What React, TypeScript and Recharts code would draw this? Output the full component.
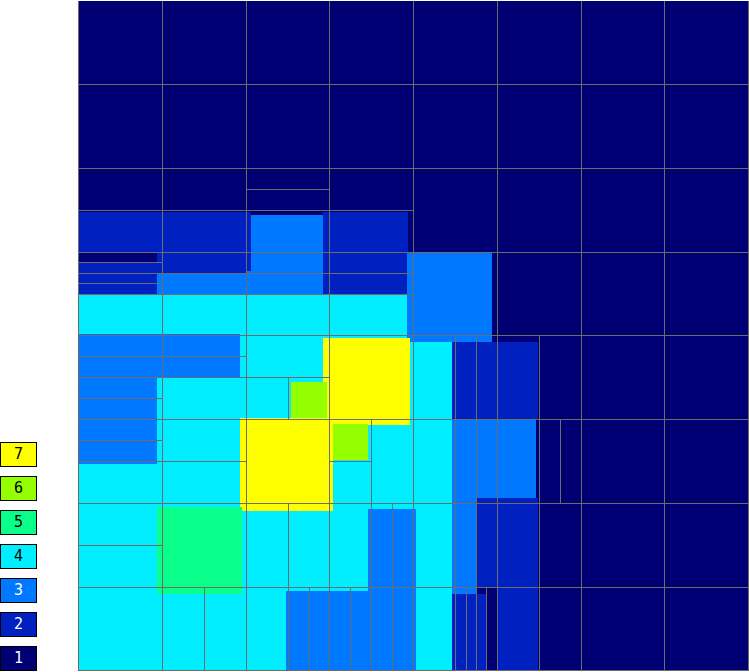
import { useEffect } from "react";
import { ScatterChart, Scatter, XAxis, YAxis, ReferenceArea, ReferenceLine } from "recharts";

// levels shown in the key, top to bottom
const legendLevels = [7, 6, 5, 4, 3, 2, 1];
const levelColors: Record<number, string> = {
  1: "#000074",
  2: "#0020C0",
  3: "#0078FF",
  4: "#00EEFF",
  5: "#0AFF8A",
  6: "#94FF00",
  7: "#FFFF00",
};

// filled patches in grid units: [x1, x2, y1, y2, level]  (y counted from the top)
const patches: [number, number, number, number, number][] = [
  [0, 8, 0, 8, 1],
  [0, 2, 2.52, 3.51, 2],
  [0, 0.93, 3.01, 3.13, 1],
  [0.93, 1, 3.26, 3.51, 3],
  [1, 2, 3.26, 3.51, 3],
  [2, 2.06, 2.52, 3.22, 2],
  [2, 2.06, 3.22, 3.51, 3],
  [2.06, 2.92, 2.555, 3.51, 3],
  [2.92, 3.93, 2.52, 3.51, 2],
  [0, 4.46, 3.51, 8, 4],
  [3.92, 4.93, 3.01, 4.07, 3],
  [0, 1.93, 3.98, 4.5, 3],
  [0, 0.93, 4.5, 5.53, 3],
  [2.92, 3.96, 4.02, 5.06, 7],
  [1.93, 3.04, 4.98, 6.09, 7],
  [2.54, 2.97, 4.55, 4.98, 6],
  [3.04, 3.46, 5.05, 5.48, 6],
  [0.93, 1.955, 6.04, 7.08, 5],
  [3.46, 4.03, 6.07, 8, 3],
  [2.47, 3.46, 7.045, 8, 3],
  [4.46, 5.48, 4.07, 5.0, 2],
  [4.46, 5.46, 5.0, 6.0, 3],
  [4.745, 5.48, 5.93, 7.01, 2],
  [4.46, 4.745, 6.0, 7.08, 3],
  [4.46, 4.865, 7.08, 8, 2],
  [4.865, 5.0, 7.1, 8, 1],
  [5.0, 5.48, 7.01, 8, 2],
];

const gridSteps = [0, 1, 2, 3, 4, 5, 6, 7, 8];

// refined mesh lines: horizontal [y, x1, x2], vertical [x, y1, y2]
const subRows: [number, number, number][] = [
  [2.25, 2, 3],
  [2.5, 0, 4],
  [3.125, 0, 1],
  [3.25, 0, 4],
  [3.375, 0, 1],
  [3.5, 0, 4],
  [4.25, 0, 2],
  [4.5, 0, 3],
  [4.75, 0, 1],
  [5.25, 0, 1],
  [5.5, 0, 2],
  [5.5, 3, 3.5],
  [6.5, 0, 1],
];
const subCols: [number, number, number][] = [
  [2.5, 4.5, 5],
  [2.5, 6, 8],
  [3.5, 5, 8],
  [3.75, 6, 8],
  [1.5, 7, 8],
  [2.75, 7, 8],
  [3.25, 7, 8],
  [4.5, 4, 8],
  [4.75, 4, 8],
  [4.625, 7, 8],
  [4.875, 7, 8],
  [5.5, 4, 8],
  [5.75, 5, 6],
];

const GRID = "#6C6C6C";

// patch centres, only to give the axes some data
const centres = patches.map(([x1, x2, y1, y2, lv]) => ({ x: (x1 + x2) / 2, y: (y1 + y2) / 2, level: lv }));

export default function App() {
  useEffect(() => {
    document.body.style.margin = "0";
  }, []);

  return (
    <div style={{ position: "absolute", left: 0, top: 0, width: 749, height: 672, overflow: "hidden", background: "#fff" }}>
      <style>{`.recharts-surface { shape-rendering: crispEdges; }`}</style>
      <ScatterChart width={749} height={672} margin={{ top: 0.9, right: 0.3, bottom: 1.1, left: 78.7 }}>
        <XAxis type="number" dataKey="x" domain={[0, 8]} allowDataOverflow hide />
        <YAxis type="number" dataKey="y" domain={[0, 8]} allowDataOverflow reversed hide />
        {patches.map(([x1, x2, y1, y2, lv], i) => (
          <ReferenceArea
            key={`p${i}`}
            x1={x1}
            x2={x2}
            y1={y1}
            y2={y2}
            fill={levelColors[lv]}
            fillOpacity={1}
            stroke="none"
            ifOverflow="visible"
          />
        ))}
        {gridSteps.slice(0).map((v) => (
          <ReferenceLine key={`v${v}`} segment={[{ x: v, y: 0 }, { x: v, y: 8 }]} stroke={GRID} ifOverflow="visible" />
        ))}
        {gridSteps.slice(1).map((v) => (
          <ReferenceLine key={`h${v}`} segment={[{ x: 0, y: v }, { x: 8, y: v }]} stroke={GRID} ifOverflow="visible" />
        ))}
        {subRows.map(([y, x1, x2], i) => (
          <ReferenceLine key={`sr${i}`} segment={[{ x: x1, y }, { x: x2, y }]} stroke={GRID} ifOverflow="visible" />
        ))}
        {subCols.map(([x, y1, y2], i) => (
          <ReferenceLine key={`sc${i}`} segment={[{ x, y: y1 }, { x, y: y2 }]} stroke={GRID} ifOverflow="visible" />
        ))}
        <Scatter data={centres} isAnimationActive={false} fill="none" shape={() => <g />} />
      </ScatterChart>
      {legendLevels.map((lv, i) => (
        <div
          key={lv}
          style={{
            position: "absolute",
            left: 0,
            top: 442 + i * 34,
            width: 35,
            height: 23,
            border: "1px solid #000",
            background: levelColors[lv],
            color: lv <= 3 ? "#fff" : "#000",
            fontFamily: "'DejaVu Sans Mono', monospace",
            fontSize: 15,
            lineHeight: "23px",
            textAlign: "center",
          }}
        >
          {lv}
        </div>
      ))}
    </div>
  );
}
